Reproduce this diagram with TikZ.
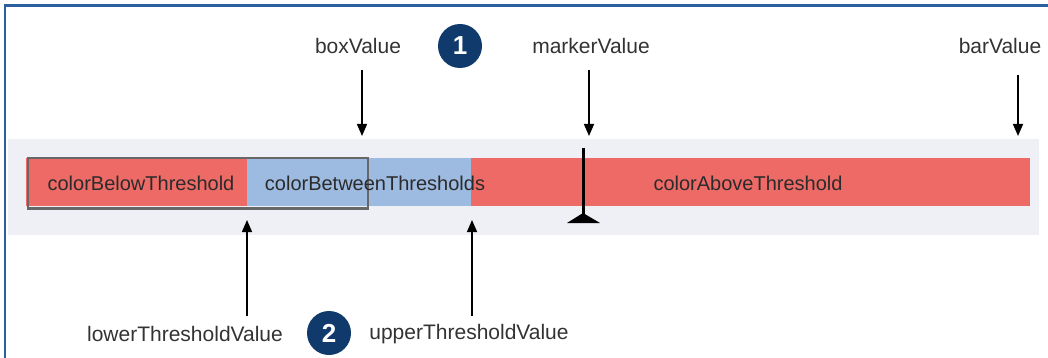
\documentclass[tikz,border=0pt]{standalone}
\usepackage{fontspec}
\setmainfont{Liberation Sans}
\usetikzlibrary{arrows.meta}
\definecolor{bandbg}{HTML}{EEF0F6}
\definecolor{redbar}{HTML}{EE6A66}
\definecolor{bluebar}{HTML}{9DBAE0}
\definecolor{navy}{HTML}{0F3A6B}
\definecolor{frameblue}{HTML}{2A5FA0}
\definecolor{boxgray}{HTML}{676767}
\definecolor{labelgray}{HTML}{333333}
\definecolor{bartextc}{HTML}{2B2B2B}
\tikzset{
  lbl/.style={font=\fontsize{21}{24}\selectfont, text=labelgray, inner sep=0pt},
  bartext/.style={font=\fontsize{20}{23}\selectfont, text=bartextc, inner sep=0pt},
  badge/.style={circle, fill=navy, text=white, minimum size=44pt, inner sep=0pt, font=\fontsize{26}{28}\selectfont\bfseries},
  arr/.style={line width=1.5pt, -{Triangle[width=10pt,length=12pt]}},
  seg/.style={draw=none, inner sep=0pt, anchor=north west}
}
\begin{document}
\begin{tikzpicture}[x=1pt,y=-1pt]
\useasboundingbox (0,0) rectangle (1048,358);
\fill[white] (0,0) rectangle (1048,358);
% frame
\draw[frameblue, line width=2.5pt] (5,358) -- (5,5.5) -- (1048,5.5);
% band
\fill[bandbg] (8,139) rectangle (1039,235);
% bar segments
\node[seg, fill=redbar, minimum width=221pt, minimum height=48pt] (below) at (26,158) {};
\node[seg, fill=bluebar, minimum width=224pt, minimum height=48pt] (between) at (247,158) {};
\node[seg, fill=redbar, minimum width=559pt, minimum height=48pt] (above) at (471,158) {};
% box
\node[draw=boxgray, line width=2.5pt, inner sep=0pt, minimum width=340pt, minimum height=50pt, anchor=north west] (box) at (26.5,157) {};
% bar texts
\node[bartext] (tbelow) at (141,183) {colorBelowThreshold};
\node[bartext] (tbetween) at (375,183) {colorBetweenThresholds};
\node[bartext] (tabove) at (748,183) {colorAboveThreshold};
% marker
\coordinate (mtop) at (583,148);
\coordinate (mbot) at (583,216);
\draw[line width=3pt] (mtop) -- (mbot);
\fill (mbot) ++(0,-3) -- (600,223) -- (567,223) -- cycle;
% top labels
\node[lbl] (boxv) at (358,46) {boxValue};
\node[badge] (b1) at (460,46) {1};
\node[lbl] (markv) at (591,46) {markerValue};
\node[lbl] (barv) at (1000,46) {barValue};
% bottom labels
\node[lbl] (lowv) at (185,334) {lowerThresholdValue};
\node[badge] (b2) at (329,333) {2};
\node[lbl] (upv) at (469,334) {upperThresholdValue};
% arrow coordinates
\coordinate (boxs) at (362,70);
\coordinate (boxt) at (362,136);
\coordinate (marks) at (589,70);
\coordinate (markt) at (589,136);
\coordinate (bars) at (1018,75);
\coordinate (bart) at (1018,136);
\coordinate (lows) at (247,316);
\coordinate (lowt) at (247,220);
\coordinate (ups) at (472,316);
\coordinate (upt) at (472,220);
\draw[arr] (boxs) -- (boxt);
\draw[arr] (marks) -- (markt);
\draw[arr] (bars) -- (bart);
\draw[arr] (lows) -- (lowt);
\draw[arr] (ups) -- (upt);
\end{tikzpicture}
\end{document}
